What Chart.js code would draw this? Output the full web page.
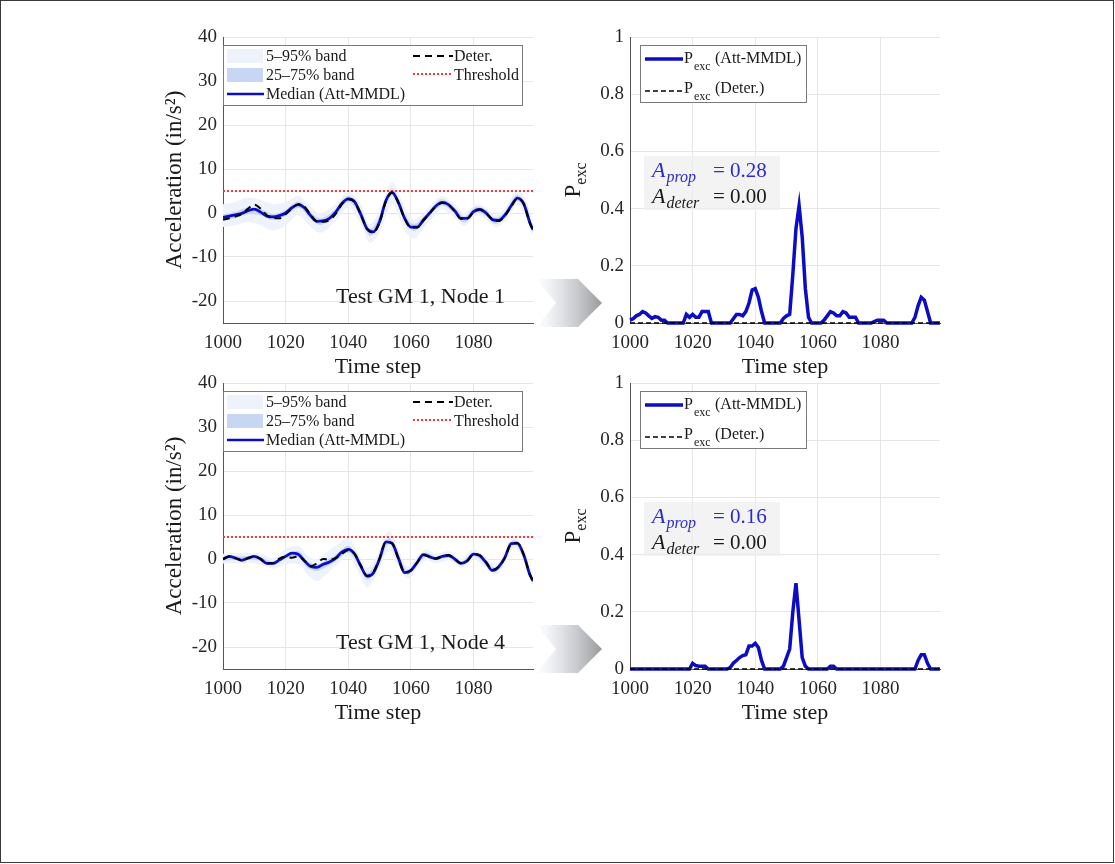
<!DOCTYPE html>
<html>
<head>
<meta charset="utf-8">
<script src="https://cdn.jsdelivr.net/npm/chart.js@4.4.1/dist/chart.umd.min.js"></script>
<style>
  body { margin: 0; background: #fff; }
  #frame { position: absolute; left: 0; top: 0; width: 1112px; height: 861px; border: 1px solid #3a3a3a; }
  canvas { position: absolute; }
</style>
</head>
<body>
<div id="frame"></div>
<canvas id="arrows" width="1115" height="864" style="left:0;top:0"></canvas>
<canvas id="accTop" width="395" height="370" style="left:150px;top:17px"></canvas>
<canvas id="pTop" width="395" height="370" style="left:557px;top:17px"></canvas>
<canvas id="accBot" width="395" height="370" style="left:150px;top:363px"></canvas>
<canvas id="pBot" width="395" height="370" style="left:557px;top:363px"></canvas>
<script>
// ---- data ----
const xTicks = [1000, 1020, 1040, 1060, 1080];
const accYTicks = [-20, -10, 0, 10, 20, 30, 40];
const pYTicks = [0, 0.2, 0.4, 0.6, 0.8, 1];
const pYLabels = ['0', '0.2', '0.4', '0.6', '0.8', '1'];
const THRESHOLD = 5;

const accSteps = [1000,1002,1004,1006,1008,1010,1012,1014,1016,1018,1020,1022,1024,1026,1028,1030,1032,1034,1036,1038,
  1040,1042,1044,1046,1048,1050,1052,1054,1056,1058,1060,1062,1064,1066,1068,1070,1072,1074,1076,1078,
  1080,1082,1084,1086,1088,1090,1092,1094,1096,1098,1099];

// Node 1
const medianN1 = [-1.0,-0.7,-0.4,-0.1,0.5,0.9,0.2,-0.7,-0.9,-0.6,0.0,1.2,1.9,1.2,-0.6,-1.9,-1.8,-1.2,0.2,2.2,
  3.2,2.6,-0.3,-3.6,-4.3,-2.0,2.8,4.7,2.4,-1.2,-3.2,-3.2,-1.6,0.0,1.6,2.4,1.9,0.5,-1.2,-1.2,
  0.3,0.8,0.0,-1.5,-1.7,-0.5,1.6,3.4,2.2,-2.2,-3.8];
const deterN1 = [-1.5,-1.2,-0.8,-0.2,1.0,1.9,1.0,-0.5,-1.1,-1.2,-0.3,1.0,2.0,1.5,-0.4,-1.9,-2.0,-1.6,-0.2,2.0,
  3.1,2.5,-0.4,-3.6,-4.4,-2.2,2.6,4.6,2.3,-1.3,-3.3,-3.3,-1.7,-0.1,1.5,2.3,1.8,0.4,-1.3,-1.3,
  0.2,0.8,0.0,-1.4,-1.8,-0.7,1.4,3.3,2.1,-2.3,-3.9];
const bandStepsN1 = [1000,1004,1008,1012,1016,1020,1024,1028,1031,1036,1040,1044,1047,1050,1054,1058,1061,1064,1068,1070,
  1074,1077,1081,1084,1087,1090,1094,1097,1099];
const q95N1 = [2.0,2.5,3.5,3.0,2.0,2.5,3.8,1.5,0.0,2.0,4.8,2.0,-2.5,0.5,7.0,1.5,-1.5,0.0,3.0,3.8,2.0,0.0,2.0,1.2,-0.5,1.0,4.8,2.5,-2.5];
const q05N1 = [-3.2,-2.8,-2.0,-2.8,-4.0,-2.8,-0.5,-3.2,-4.5,-1.8,1.2,-2.5,-6.8,-4.5,2.0,-4.0,-5.8,-3.5,-0.2,0.8,-1.2,-3.0,-0.5,-1.5,-3.2,-2.0,1.8,-1.5,-5.2];
const q75N1 = [-0.3,0.3,1.2,0.9,-0.2,0.7,2.6,0.1,-1.2,0.9,3.9,0.7,-3.6,-0.8,5.5,-0.3,-2.5,-0.9,2.3,3.1,1.2,-0.8,1.5,0.7,-1.1,0.2,4.1,1.2,-3.1];
const q25N1 = [-1.7,-1.1,-0.2,-0.5,-1.6,-0.7,1.2,-1.3,-2.7,-0.5,2.5,-0.7,-5.2,-2.2,3.9,-1.7,-4.1,-2.3,0.9,1.7,-0.2,-2.2,0.1,-0.7,-2.5,-1.2,2.7,-0.2,-4.5];

// Node 4
const medianN4 = [0.0,0.6,0.2,-0.3,0.2,0.6,0.0,-1.0,-1.0,-0.2,0.6,1.35,1.1,-0.4,-1.7,-1.9,-1.2,-0.7,0.2,1.6,
  2.2,1.2,-1.6,-3.9,-3.2,0.0,3.9,3.6,0.2,-3.1,-2.6,-0.8,1.0,0.5,0.1,0.6,0.8,0.0,-1.0,-0.4,
  1.1,0.8,-0.8,-2.6,-1.8,0.3,3.5,3.6,1.0,-3.6,-5.0];
const deterN4 = [0.0,0.5,0.2,-0.3,0.2,0.6,0.0,-1.0,-0.9,0.1,0.5,0.3,0.6,-0.4,-1.6,-1.0,0.0,-0.1,0.2,1.2,
  2.0,1.2,-1.5,-3.8,-3.0,0.2,3.8,3.5,0.1,-3.0,-2.6,-0.8,0.9,0.5,0.1,0.6,0.9,0.1,-0.9,-0.4,
  1.1,0.8,-0.7,-2.5,-1.8,0.2,3.4,3.6,1.0,-3.5,-5.0];
const bandStepsN4 = [1000,1004,1008,1012,1016,1020,1024,1027,1030,1033,1036,1040,1043,1046,1050,1053,1056,1059,1062,1065,
  1068,1072,1076,1080,1084,1087,1090,1093,1096,1099];
const q95N4 = [1.2,1.3,1.4,1.2,0.2,2.2,3.0,0.8,0.0,1.5,3.0,4.8,1.5,-2.0,2.0,6.5,2.0,-1.8,0.5,2.2,1.2,1.8,0.0,2.2,0.3,-1.2,1.5,5.0,2.2,-3.8];
const q05N4 = [-1.0,-0.9,-0.9,-1.2,-2.2,-1.2,-1.0,-3.5,-5.0,-3.5,-1.5,0.5,-2.5,-6.5,-2.0,2.0,-1.5,-4.5,-2.0,-0.3,-1.0,-0.3,-2.0,0.0,-2.0,-3.6,-1.0,2.5,-0.2,-6.2];
const q75N4 = [0.4,0.6,0.6,0.4,-0.6,1.1,1.8,-0.5,-1.2,-0.2,0.9,3.0,0.3,-3.2,0.6,4.8,0.8,-2.6,-0.3,1.5,0.5,1.2,-0.6,1.5,-0.4,-2.0,0.8,4.3,1.5,-4.5];
const q25N4 = [-0.4,-0.2,-0.2,-0.4,-1.4,0.1,0.4,-2.0,-2.7,-1.8,-0.5,1.4,-0.9,-4.7,-0.6,3.4,-0.4,-3.6,-1.3,0.5,-0.3,0.4,-1.4,0.7,-1.2,-2.8,-0.2,3.3,0.5,-5.5];

// exceedance probability, one value per time step 1000..1099
const pSteps = Array.from({ length: 100 }, (_, i) => 1000 + i);
const pExcN1 = [0.01,0.015,0.025,0.03,0.04,0.035,0.025,0.016,0.022,0.02,
  0.01,0.01,0,0,0,0,0,0,0.03,0.02,
  0.03,0.02,0.02,0.04,0.04,0.04,0,0,0,0,
  0,0,0,0.015,0.03,0.03,0.025,0.04,0.07,0.115,
  0.12,0.09,0.04,0,0,0,0,0,0,0.016,
  0.025,0.03,0.17,0.33,0.41,0.3,0.12,0.02,0,0,
  0,0,0.01,0.025,0.04,0.035,0.025,0.025,0.04,0.035,
  0.02,0.02,0.02,0,0,0,0,0,0.005,0.01,
  0.01,0.01,0,0,0,0,0,0,0,0,
  0,0.02,0.06,0.09,0.08,0.04,0,0,0,0];
const pExcN4 = [0,0,0,0,0,0,0,0,0,0,
  0,0,0,0,0,0,0,0,0,0,
  0.02,0.012,0.01,0.01,0.01,0,0,0,0,0,
  0,0,0.005,0.02,0.03,0.04,0.047,0.05,0.08,0.08,
  0.09,0.075,0.03,0,0,0,0,0,0,0.01,
  0.04,0.07,0.2,0.3,0.17,0.04,0.01,0,0,0,
  0,0,0,0,0.01,0.01,0,0,0,0,
  0,0,0,0,0,0,0,0,0,0,
  0,0,0,0,0,0,0,0,0,0,
  0,0,0.03,0.05,0.05,0.02,0,0,0,0];
const pDeterSteps = [1000, 1099];
const pDeter = [0, 0];
const A_PROP = ['0.28', '0.16'];
const A_DETER = ['0.00', '0.00'];

// ---- styling ----
const FONT = '"Liberation Serif", "Times New Roman", serif';
const BLUE = '#0b0cc4';
const BAND_OUTER = '#edf2fb';
const BAND_INNER = '#c7d7f3';
const GRID = '#e6e6e6';
const AXIS = '#555555';
const TICK = '#262626';
const RED = '#ff3535';

const pts = (xs, ys) => xs.map((x, i) => ({ x: x, y: ys[i] }));

function baseScales(yMin, yMax, yTicks, yLabel) {
    return {
        x: {
            type: 'linear', min: 1000, max: 1099,
            afterBuildTicks: s => { s.ticks = xTicks.map(v => ({ value: v })); },
            afterFit: s => { s.height = 64; },
            grid: { color: GRID, drawTicks: false },
            border: { color: AXIS, width: 1 },
            ticks: { color: TICK, font: { family: FONT, size: 19 }, padding: 9, maxRotation: 0, callback: v => String(v) }
        },
        y: {
            type: 'linear', min: yMin, max: yMax,
            afterBuildTicks: s => { s.ticks = yTicks.map(v => ({ value: v })); },
            afterFit: s => { s.width = 73; },
            grid: { color: GRID, drawTicks: false },
            border: { color: AXIS, width: 1 },
            ticks: { color: TICK, font: { family: FONT, size: 19 }, padding: 6, callback: yLabel }
        }
    };
}

const baseOptions = {
    responsive: false, animation: false, devicePixelRatio: 1,
    layout: { padding: { top: 20, right: 12, left: 0, bottom: 0 } },
    plugins: { legend: { display: false }, tooltip: { enabled: false } },
    elements: { point: { radius: 0 } }
};

// acceleration panel: bands, median, deterministic, threshold + legend & caption
function accDecor(caption) {
    return {
        id: 'accDecor',
        afterDraw(chart) {
            const { ctx, chartArea: a } = chart;
            ctx.save();
            ctx.fillStyle = '#1a1a1a';
            ctx.font = `22px ${FONT}`;
            ctx.textAlign = 'center';
            ctx.textBaseline = 'alphabetic';
            ctx.fillText('Time step', (a.left + a.right) / 2, a.bottom + 50);
            ctx.save();
            ctx.translate(a.left - 42, (a.top + a.bottom) / 2);
            ctx.rotate(-Math.PI / 2);
            ctx.font = `23px ${FONT}`;
            ctx.fillText('Acceleration (in/s²)', 0, 0);
            ctx.restore();

            // legend box
            const lx = a.left, ly = a.top + 8;
            ctx.fillStyle = '#fff';
            ctx.fillRect(lx, ly, 299, 60);
            ctx.strokeStyle = '#7a7a7a';
            ctx.lineWidth = 1;
            ctx.strokeRect(lx + 0.5, ly + 0.5, 299, 60);
            ctx.fillStyle = BAND_OUTER;
            ctx.fillRect(lx + 4, ly + 4, 36, 14);
            ctx.fillStyle = BAND_INNER;
            ctx.fillRect(lx + 4, ly + 23, 36, 14);
            ctx.strokeStyle = BLUE; ctx.lineWidth = 2.5;
            ctx.beginPath(); ctx.moveTo(lx + 4, ly + 49); ctx.lineTo(lx + 41, ly + 49); ctx.stroke();
            ctx.strokeStyle = '#000'; ctx.lineWidth = 2.2; ctx.setLineDash([7, 5]);
            ctx.beginPath(); ctx.moveTo(lx + 190, ly + 11); ctx.lineTo(lx + 230, ly + 11); ctx.stroke();
            ctx.strokeStyle = RED; ctx.lineWidth = 2; ctx.setLineDash([2, 2]);
            ctx.beginPath(); ctx.moveTo(lx + 190, ly + 29); ctx.lineTo(lx + 230, ly + 29); ctx.stroke();
            ctx.setLineDash([]);
            ctx.fillStyle = '#1a1a1a';
            ctx.font = `16px ${FONT}`;
            ctx.textAlign = 'left';
            ctx.fillText('5–95% band', lx + 43, ly + 16);
            ctx.fillText('25–75% band', lx + 43, ly + 35);
            ctx.fillText('Median (Att-MMDL)', lx + 43, ly + 54);
            ctx.fillText('Deter.', lx + 231, ly + 16);
            ctx.fillText('Threshold', lx + 231, ly + 35);

            ctx.font = `22px ${FONT}`;
            ctx.fillText(caption, a.left + 113, a.top + 266);
            ctx.restore();
        }
    };
}

function makeAcc(id, median, deter, bandSteps, q05, q95, q25, q75, caption) {
    const smooth = { cubicInterpolationMode: 'monotone', pointRadius: 0 };
    return new Chart(document.getElementById(id), {
        type: 'line',
        data: {
            datasets: [
                { data: pts(bandSteps, q05), borderWidth: 0, borderColor: 'transparent', fill: false, order: 10, ...smooth },
                { data: pts(bandSteps, q95), borderWidth: 0, borderColor: 'transparent', backgroundColor: BAND_OUTER, fill: '-1', order: 9, ...smooth },
                { data: pts(bandSteps, q25), borderWidth: 0, borderColor: 'transparent', fill: false, order: 8, ...smooth },
                { data: pts(bandSteps, q75), borderWidth: 0, borderColor: 'transparent', backgroundColor: BAND_INNER, fill: '-1', order: 7, ...smooth },
                { data: pts([1000, 1099], [THRESHOLD, THRESHOLD]), borderColor: RED, borderWidth: 2, borderDash: [2, 2], fill: false, order: 3, pointRadius: 0 },
                { data: pts(accSteps, median), borderColor: BLUE, borderWidth: 2.8, fill: false, order: 2, ...smooth },
                { data: pts(accSteps, deter), borderColor: '#000', borderWidth: 2, borderDash: [7, 5], fill: false, order: 1, ...smooth }
            ]
        },
        options: { ...baseOptions, scales: baseScales(-25, 40, accYTicks, v => String(v)) },
        plugins: [accDecor(caption)]
    });
}

// probability panel: legend with subscripts and the A values
function pDecor(aProp, aDeter) {
    return {
        id: 'pDecor',
        afterDraw(chart) {
            const { ctx, chartArea: a } = chart;
            ctx.save();
            ctx.fillStyle = '#1a1a1a';
            ctx.font = `22px ${FONT}`;
            ctx.textAlign = 'center';
            ctx.fillText('Time step', (a.left + a.right) / 2, a.bottom + 50);
            // rotated P_exc
            ctx.save();
            ctx.translate(a.left - 50, (a.top + a.bottom) / 2);
            ctx.rotate(-Math.PI / 2);
            ctx.textAlign = 'left';
            ctx.font = `23px ${FONT}`;
            const pw = ctx.measureText('P').width;
            ctx.font = `16px ${FONT}`;
            const ew = ctx.measureText('exc').width;
            const start = -(pw + ew) / 2;
            ctx.font = `23px ${FONT}`;
            ctx.fillText('P', start, 0);
            ctx.font = `16px ${FONT}`;
            ctx.fillText('exc', start + pw, 6);
            ctx.restore();

            // legend
            const lx = a.left + 10, ly = a.top + 8;
            ctx.fillStyle = '#fff';
            ctx.fillRect(lx, ly, 166, 57);
            ctx.strokeStyle = '#7a7a7a'; ctx.lineWidth = 1;
            ctx.strokeRect(lx + 0.5, ly + 0.5, 166, 57);
            ctx.strokeStyle = BLUE; ctx.lineWidth = 3.5;
            ctx.beginPath(); ctx.moveTo(lx + 5, ly + 14); ctx.lineTo(lx + 43, ly + 14); ctx.stroke();
            ctx.strokeStyle = '#000'; ctx.lineWidth = 1.3; ctx.setLineDash([5, 3]);
            ctx.beginPath(); ctx.moveTo(lx + 5, ly + 46); ctx.lineTo(lx + 43, ly + 46); ctx.stroke();
            ctx.setLineDash([]);
            ctx.fillStyle = '#1a1a1a';
            ctx.textAlign = 'left';
            const rows = [['(Att-MMDL)', ly + 18], ['(Deter.)', ly + 48]];
            rows.forEach(([txt, y]) => {
                ctx.font = `16px ${FONT}`;
                ctx.fillText('P', lx + 44, y);
                ctx.font = `12px ${FONT}`;
                ctx.fillText('exc', lx + 54, y + 7);
                ctx.font = `16px ${FONT}`;
                ctx.fillText(txt, lx + 75, y);
            });

            // A values over a light highlight
            const ax = a.left + 22;
            ctx.fillStyle = 'rgba(238,238,238,0.7)';
            ctx.fillRect(a.left + 14, a.top + 119, 136, 54);
            const drawA = (sub, val, y, color) => {
                ctx.fillStyle = color;
                ctx.font = `italic 22px ${FONT}`;
                ctx.fillText('A', ax, y);
                const w = ctx.measureText('A').width;
                ctx.font = `italic 16px ${FONT}`;
                ctx.fillText(sub, ax + w + 1, y + 5);
                ctx.font = `21px ${FONT}`;
                ctx.fillText('= ' + val, ax + 61, y);
            };
            drawA('prop', aProp, a.top + 140, '#2b2bd6');
            drawA('deter', aDeter, a.top + 166, '#1a1a1a');
            ctx.restore();
        }
    };
}

function makeP(id, pExc, aProp, aDeter) {
    return new Chart(document.getElementById(id), {
        type: 'line',
        data: {
            datasets: [
                { data: pts(pSteps, pExc), borderColor: BLUE, borderWidth: 3.5, fill: false, order: 2, pointRadius: 0, tension: 0, clip: 6 },
                { data: pts(pDeterSteps, pDeter), borderColor: '#000', borderWidth: 1.3, borderDash: [5, 3], fill: false, order: 1, pointRadius: 0, clip: 6 }
            ]
        },
        options: { ...baseOptions, scales: baseScales(0, 1, pYTicks, (v, i) => pYLabels[i]) },
        plugins: [pDecor(aProp, aDeter)]
    });
}

// gray arrows between the panels
function drawArrow(ctx, cy) {
    const g = ctx.createLinearGradient(536, 0, 603, 0);
    g.addColorStop(0, 'rgba(215,222,232,0)');
    g.addColorStop(0.45, 'rgba(200,203,210,0.7)');
    g.addColorStop(1, 'rgba(150,150,150,1)');
    ctx.fillStyle = g;
    ctx.beginPath();
    ctx.moveTo(536, cy - 24);
    ctx.lineTo(578, cy - 24);
    ctx.lineTo(602, cy);
    ctx.lineTo(578, cy + 24);
    ctx.lineTo(536, cy + 24);
    ctx.lineTo(556, cy);
    ctx.closePath();
    ctx.fill();
}
const actx = document.getElementById('arrows').getContext('2d');
drawArrow(actx, 303);
drawArrow(actx, 649);

makeAcc('accTop', medianN1, deterN1, bandStepsN1, q05N1, q95N1, q25N1, q75N1, 'Test GM 1, Node 1');
makeAcc('accBot', medianN4, deterN4, bandStepsN4, q05N4, q95N4, q25N4, q75N4, 'Test GM 1, Node 4');
makeP('pTop', pExcN1, A_PROP[0], A_DETER[0]);
makeP('pBot', pExcN4, A_PROP[1], A_DETER[1]);
</script>
</body>
</html>
